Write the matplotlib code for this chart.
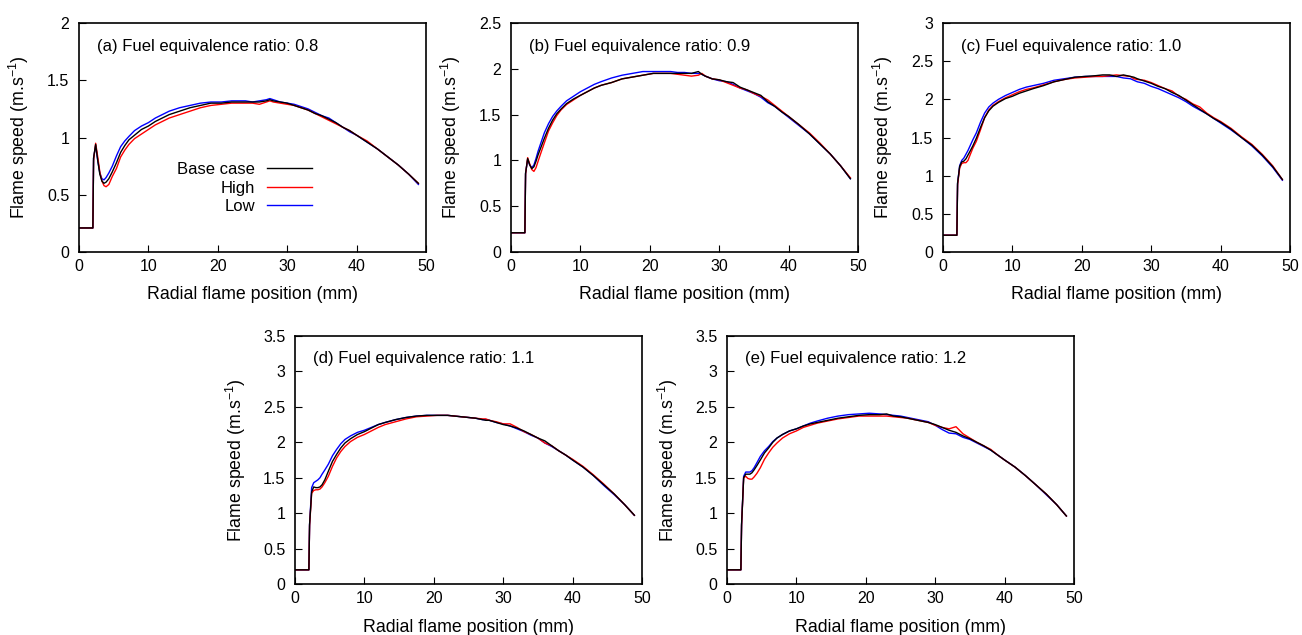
import matplotlib
matplotlib.use("Agg")
import matplotlib.pyplot as plt
from matplotlib.lines import Line2D
from matplotlib.ticker import FuncFormatter

plt.rcParams["font.family"] = ["Liberation Sans", "DejaVu Sans"]
plt.rcParams["mathtext.fontset"] = "custom"
plt.rcParams["mathtext.rm"] = "Liberation Sans"
plt.rcParams["mathtext.it"] = "Liberation Sans:italic"
plt.rcParams["mathtext.bf"] = "Liberation Sans:bold"

# Radial flame position (mm), shared by every series
radius_mm = [0, 2.0, 2.1, 2.4, 2.7, 3.0, 3.3, 3.6, 3.9, 4.3,
             4.8, 5.4, 6.0, 6.6, 7.2, 8.0, 9.0, 10, 11, 12,
             13, 14.5, 16, 17.5, 19, 20.5, 22, 23, 24, 25,
             26, 27, 27.5, 28, 29, 30, 31, 32, 33, 34,
             35, 36, 37, 38, 39, 40, 41.5, 43, 44.5, 46,
             47.5, 48.9]

# Flame speed (m/s), equivalence ratio 0.8
base_08 = [0.21, 0.21, 0.82, 0.94, 0.80, 0.68, 0.62, 0.60, 0.61, 0.64,
           0.70, 0.78, 0.87, 0.93, 0.98, 1.02, 1.07, 1.10, 1.14, 1.17,
           1.20, 1.23, 1.26, 1.28, 1.30, 1.30, 1.31, 1.31, 1.31, 1.31,
           1.31, 1.32, 1.33, 1.32, 1.31, 1.30, 1.28, 1.26, 1.24, 1.21,
           1.19, 1.16, 1.13, 1.09, 1.06, 1.02, 0.96, 0.90, 0.83, 0.76,
           0.68, 0.60]
high_08 = [0.21, 0.21, 0.80, 0.95, 0.83, 0.70, 0.62, 0.58, 0.57, 0.59,
           0.66, 0.73, 0.83, 0.89, 0.94, 0.99, 1.03, 1.07, 1.11, 1.14,
           1.17, 1.20, 1.23, 1.26, 1.28, 1.29, 1.30, 1.30, 1.30, 1.30,
           1.29, 1.31, 1.32, 1.31, 1.30, 1.29, 1.28, 1.26, 1.24, 1.21,
           1.18, 1.15, 1.12, 1.09, 1.06, 1.02, 0.97, 0.90, 0.83, 0.76,
           0.68, 0.60]
low_08 = [0.21, 0.21, 0.82, 0.93, 0.80, 0.69, 0.64, 0.63, 0.65, 0.69,
          0.75, 0.84, 0.92, 0.97, 1.01, 1.06, 1.10, 1.13, 1.17, 1.20,
          1.23, 1.26, 1.28, 1.30, 1.31, 1.31, 1.32, 1.32, 1.32, 1.31,
          1.32, 1.33, 1.34, 1.33, 1.31, 1.30, 1.29, 1.27, 1.25, 1.22,
          1.19, 1.17, 1.13, 1.09, 1.05, 1.02, 0.96, 0.90, 0.83, 0.76,
          0.68, 0.59]

# Equivalence ratio 0.9
base_09 = [0.21, 0.21, 0.86, 1.02, 0.95, 0.91, 0.93, 0.99, 1.06, 1.14,
           1.24, 1.35, 1.44, 1.51, 1.56, 1.62, 1.67, 1.71, 1.75, 1.79,
           1.82, 1.85, 1.89, 1.91, 1.93, 1.95, 1.95, 1.95, 1.95, 1.95,
           1.95, 1.97, 1.94, 1.92, 1.89, 1.88, 1.86, 1.85, 1.80, 1.77,
           1.74, 1.71, 1.64, 1.59, 1.53, 1.48, 1.39, 1.29, 1.18, 1.07,
           0.94, 0.80]
high_09 = [0.21, 0.21, 0.85, 1.03, 0.96, 0.90, 0.88, 0.92, 0.99, 1.08,
           1.19, 1.32, 1.41, 1.49, 1.55, 1.61, 1.66, 1.71, 1.75, 1.79,
           1.82, 1.85, 1.89, 1.91, 1.93, 1.95, 1.95, 1.95, 1.94, 1.93,
           1.92, 1.93, 1.95, 1.92, 1.89, 1.88, 1.85, 1.82, 1.79, 1.77,
           1.73, 1.70, 1.66, 1.60, 1.54, 1.48, 1.39, 1.30, 1.19, 1.07,
           0.94, 0.81]
low_09 = [0.21, 0.21, 0.86, 1.01, 0.95, 0.92, 0.95, 1.02, 1.10, 1.19,
          1.30, 1.40, 1.48, 1.54, 1.59, 1.65, 1.70, 1.75, 1.79, 1.83,
          1.86, 1.90, 1.93, 1.95, 1.97, 1.97, 1.97, 1.97, 1.96, 1.96,
          1.95, 1.95, 1.94, 1.92, 1.89, 1.87, 1.86, 1.83, 1.79, 1.76,
          1.73, 1.69, 1.63, 1.59, 1.53, 1.47, 1.38, 1.29, 1.18, 1.07,
          0.94, 0.80]

# Equivalence ratio 1.0
base_10 = [0.22, 0.22, 0.90, 1.12, 1.18, 1.19, 1.22, 1.27, 1.32, 1.39,
           1.49, 1.63, 1.76, 1.85, 1.91, 1.96, 2.01, 2.04, 2.08, 2.11,
           2.14, 2.18, 2.23, 2.26, 2.29, 2.30, 2.31, 2.32, 2.32, 2.30,
           2.32, 2.30, 2.29, 2.27, 2.24, 2.21, 2.17, 2.14, 2.09, 2.05,
           1.99, 1.93, 1.87, 1.81, 1.75, 1.70, 1.61, 1.50, 1.40, 1.27,
           1.12, 0.95]
high_10 = [0.22, 0.22, 0.88, 1.10, 1.16, 1.17, 1.17, 1.20, 1.27, 1.36,
           1.45, 1.60, 1.76, 1.86, 1.92, 1.97, 2.02, 2.06, 2.10, 2.13,
           2.15, 2.19, 2.23, 2.26, 2.28, 2.29, 2.30, 2.30, 2.31, 2.32,
           2.31, 2.30, 2.27, 2.26, 2.25, 2.22, 2.18, 2.14, 2.11, 2.04,
           2.00, 1.94, 1.90, 1.82, 1.76, 1.71, 1.62, 1.51, 1.41, 1.28,
           1.13, 0.95]
low_10 = [0.22, 0.22, 0.90, 1.13, 1.20, 1.23, 1.28, 1.33, 1.39, 1.47,
          1.56, 1.70, 1.82, 1.90, 1.95, 2.00, 2.05, 2.09, 2.13, 2.16,
          2.18, 2.21, 2.25, 2.27, 2.29, 2.30, 2.30, 2.30, 2.30, 2.30,
          2.28, 2.27, 2.25, 2.23, 2.21, 2.17, 2.14, 2.10, 2.06, 2.02,
          1.97, 1.91, 1.86, 1.81, 1.75, 1.69, 1.60, 1.50, 1.39, 1.26,
          1.11, 0.94]

# Equivalence ratio 1.1
base_11 = [0.20, 0.20, 0.84, 1.30, 1.37, 1.36, 1.36, 1.37, 1.40, 1.47,
           1.59, 1.73, 1.83, 1.92, 1.99, 2.05, 2.11, 2.15, 2.20, 2.25,
           2.28, 2.32, 2.35, 2.37, 2.38, 2.38, 2.38, 2.37, 2.36, 2.35,
           2.34, 2.32, 2.31, 2.31, 2.28, 2.25, 2.23, 2.20, 2.16, 2.11,
           2.06, 2.02, 1.95, 1.88, 1.82, 1.75, 1.65, 1.53, 1.40, 1.27,
           1.12, 0.97]
high_11 = [0.20, 0.20, 0.82, 1.28, 1.32, 1.33, 1.33, 1.34, 1.37, 1.43,
           1.52, 1.66, 1.78, 1.87, 1.94, 2.01, 2.07, 2.11, 2.16, 2.21,
           2.25, 2.29, 2.33, 2.36, 2.37, 2.38, 2.38, 2.37, 2.36, 2.35,
           2.34, 2.33, 2.33, 2.31, 2.29, 2.26, 2.26, 2.21, 2.15, 2.11,
           2.06, 1.99, 1.95, 1.88, 1.82, 1.76, 1.66, 1.54, 1.41, 1.27,
           1.12, 0.97]
low_11 = [0.20, 0.20, 0.84, 1.36, 1.43, 1.45, 1.47, 1.50, 1.55, 1.61,
          1.69, 1.81, 1.90, 1.98, 2.04, 2.09, 2.14, 2.17, 2.21, 2.25,
          2.28, 2.32, 2.35, 2.37, 2.38, 2.38, 2.38, 2.37, 2.36, 2.35,
          2.34, 2.32, 2.32, 2.31, 2.28, 2.26, 2.23, 2.19, 2.15, 2.10,
          2.06, 1.99, 1.94, 1.88, 1.82, 1.75, 1.65, 1.53, 1.39, 1.26,
          1.12, 0.97]

# Equivalence ratio 1.2
base_12 = [0.20, 0.20, 0.84, 1.50, 1.55, 1.55, 1.55, 1.57, 1.61, 1.67,
           1.75, 1.85, 1.92, 2.00, 2.06, 2.11, 2.16, 2.19, 2.23, 2.26,
           2.28, 2.31, 2.34, 2.36, 2.38, 2.39, 2.39, 2.40, 2.37, 2.36,
           2.34, 2.32, 2.31, 2.30, 2.28, 2.25, 2.21, 2.17, 2.14, 2.09,
           2.05, 2.00, 1.95, 1.89, 1.82, 1.75, 1.65, 1.53, 1.40, 1.27,
           1.12, 0.96]
high_12 = [0.20, 0.20, 0.82, 1.50, 1.52, 1.49, 1.48, 1.48, 1.51, 1.56,
           1.64, 1.76, 1.85, 1.93, 1.99, 2.06, 2.12, 2.16, 2.21, 2.24,
           2.27, 2.30, 2.33, 2.35, 2.37, 2.37, 2.37, 2.37, 2.36, 2.35,
           2.34, 2.32, 2.31, 2.30, 2.28, 2.24, 2.21, 2.19, 2.22, 2.12,
           2.06, 2.00, 1.95, 1.90, 1.82, 1.75, 1.65, 1.53, 1.40, 1.27,
           1.12, 0.96]
low_12 = [0.20, 0.20, 0.84, 1.52, 1.58, 1.58, 1.58, 1.60, 1.64, 1.71,
          1.80, 1.88, 1.94, 2.01, 2.06, 2.11, 2.16, 2.19, 2.23, 2.27,
          2.30, 2.34, 2.37, 2.39, 2.40, 2.41, 2.40, 2.39, 2.38, 2.37,
          2.35, 2.33, 2.32, 2.31, 2.29, 2.24, 2.18, 2.13, 2.12, 2.07,
          2.04, 1.99, 1.94, 1.89, 1.82, 1.75, 1.65, 1.53, 1.40, 1.26,
          1.12, 0.96]

panel_titles = ["(a) Fuel equivalence ratio: 0.8",
                "(b) Fuel equivalence ratio: 0.9",
                "(c) Fuel equivalence ratio: 1.0",
                "(d) Fuel equivalence ratio: 1.1",
                "(e) Fuel equivalence ratio: 1.2"]
y_max = [2.0, 2.5, 3.0, 3.5, 3.5]
series = [(base_08, high_08, low_08),
          (base_09, high_09, low_09),
          (base_10, high_10, low_10),
          (base_11, high_11, low_11),
          (base_12, high_12, low_12)]
case_names = ["Base case", "High", "Low"]
case_colors = ["black", "#ff0000", "#0000ff"]
x_ticks = [0, 10, 20, 30, 40, 50]

W, H = 1302, 635
fig = plt.figure(figsize=(W / 100, H / 100), dpi=100)

# axes boxes in pixels: left, top, right, bottom
boxes = [(79, 23, 426, 252), (511, 23, 858, 252), (943, 23, 1290, 252),
         (295, 336, 642, 584), (727, 336, 1074, 584)]

fmt = FuncFormatter(lambda v, p: "%g" % v)

for i, (l, t, r, b) in enumerate(boxes):
    ax = fig.add_axes([l / W, 1 - b / H, (r - l) / W, (b - t) / H])
    base, high, low = series[i]
    ax.plot(radius_mm, low, color=case_colors[2], lw=1.0)
    ax.plot(radius_mm, high, color=case_colors[1], lw=1.0)
    ax.plot(radius_mm, base, color=case_colors[0], lw=1.0)

    ax.set_xlim(0, 50)
    ax.set_ylim(0, y_max[i])
    ax.set_xticks(x_ticks)
    step = 0.5
    n = int(round(y_max[i] / step))
    ax.set_yticks([k * step for k in range(n + 1)])
    ax.yaxis.set_major_formatter(fmt)
    ax.xaxis.set_major_formatter(fmt)

    for s in ax.spines.values():
        s.set_linewidth(1.2)
    ax.tick_params(direction="in", length=5, width=0.8, labelsize=11.5,
                   top=False, right=False)
    ax.tick_params(axis="x", pad=5)
    ax.tick_params(axis="y", pad=7)

    hpx = b - t
    ax.set_xlabel("Radial flame position (mm)", fontsize=12.8)
    ax.set_ylabel("Flame speed (m.s$^{-1}$)", fontsize=12.8)
    ax.yaxis.set_label_coords(-0.138 if i < 3 else -0.135, 0.5)
    ax.xaxis.set_label_coords(0.5, -(34 if i < 3 else 35) / hpx)

    ax.text(18 / (r - l), 1 - 23 / hpx, panel_titles[i], transform=ax.transAxes,
            fontsize=12, ha="left", va="center")

    if i == 0:
        handles = [Line2D([], [], color=c, lw=1.0) for c in case_colors]
        ax.legend(handles, case_names, loc="center right",
                  bbox_to_anchor=((312 - l) / (r - l), (b - 188) / hpx),
                  frameon=False, markerfirst=False, fontsize=12,
                  handlelength=2.7, handletextpad=0.7, labelspacing=0.22,
                  borderpad=0, borderaxespad=0)

fig.savefig("out.png", dpi=100)
